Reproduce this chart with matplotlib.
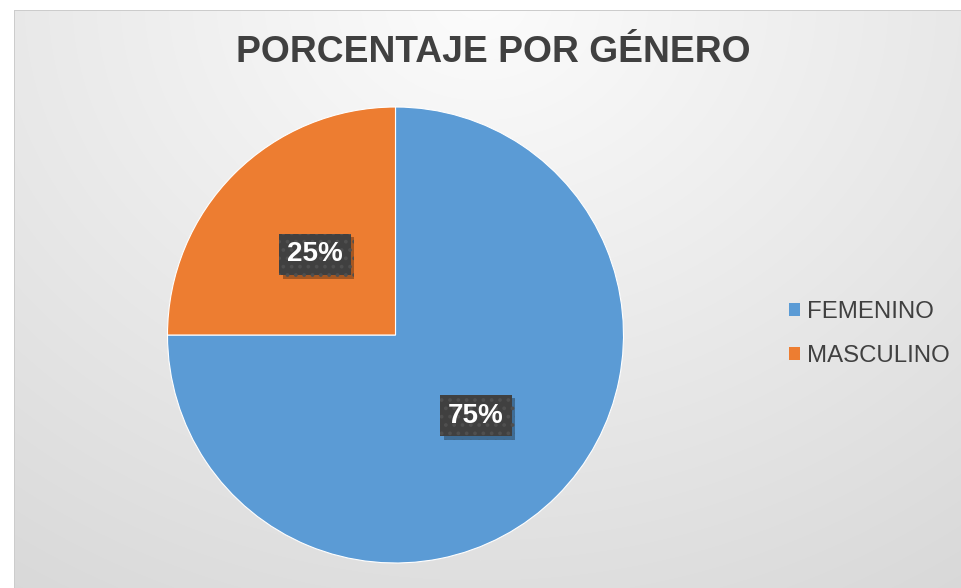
import numpy as np
import matplotlib
matplotlib.use("Agg")
import matplotlib.pyplot as plt
import matplotlib.patheffects as pe
from matplotlib.patches import Patch

# datos
generos = ["FEMENINO", "MASCULINO"]
porcentajes = [75, 25]
colores = ["#5B9BD5", "#ED7D31"]
titulo = "PORCENTAJE POR GÉNERO"

plt.rcParams['font.family'] = ['Liberation Sans', 'DejaVu Sans']
plt.rcParams['hatch.linewidth'] = 1.5

W, H = 961, 588
fig = plt.figure(figsize=(W / 100, H / 100), dpi=100)

# fondo con degradado radial (estilo Excel)
yy, xx = np.mgrid[0:H, 0:W]
d = np.sqrt(((xx - 480) / 1.2) ** 2 + yy ** 2)
g = np.clip(252 - 0.05 * d, 0, 255) / 255.0
img = np.dstack([g, g, g])
img[:, :14] = 1.0
img[:10, :] = 1.0
img[10:, 14] = 0.80
img[10, 14:] = 0.80
bg = fig.add_axes([0, 0, 1, 1])
bg.imshow(img, aspect="auto", interpolation="nearest")
bg.axis("off")

# pastel
cx, cy, r = 395.5, 335, 228
ax = fig.add_axes([(cx - r) / W, (H - cy - r) / H, 2 * r / W, 2 * r / H])
wedges, textos, autotextos = ax.pie(
    porcentajes, colors=colores, startangle=90, counterclock=False,
    autopct="%1.0f%%", pctdistance=0.5,
    wedgeprops=dict(edgecolor="white", linewidth=0.8),
    textprops=dict(color="white", fontsize=20, fontweight="bold"))
ax.set_xlim(-1, 1)
ax.set_ylim(-1, 1)
ax.axis("off")

for t in autotextos:
    t.set_bbox(dict(boxstyle="square,pad=0.28", facecolor="#404040",
                    edgecolor="#4f4f4f", linewidth=0, hatch=".."))
    t.get_bbox_patch().set_path_effects([
        pe.SimplePatchShadow(offset=(2.5, -2.5), shadow_rgbFace="black", alpha=0.3),
        pe.Normal()])

# titulo
fig.text(493 / W, 1 - 53 / H, titulo, ha="center", va="center",
         fontsize=26.8, fontweight="bold", color="#404040")

# leyenda
handles = [Patch(facecolor=c, edgecolor="none") for c in colores]
fig.legend(handles, generos, loc="center left",
           bbox_to_anchor=(789 / W, 1 - 334 / H), frameon=False,
           fontsize=17.3, labelcolor="#404040", handlelength=0.45,
           handleheight=0.45, handletextpad=0.3, labelspacing=0.9,
           borderpad=0, borderaxespad=0)

fig.savefig("out.png", dpi=100)
